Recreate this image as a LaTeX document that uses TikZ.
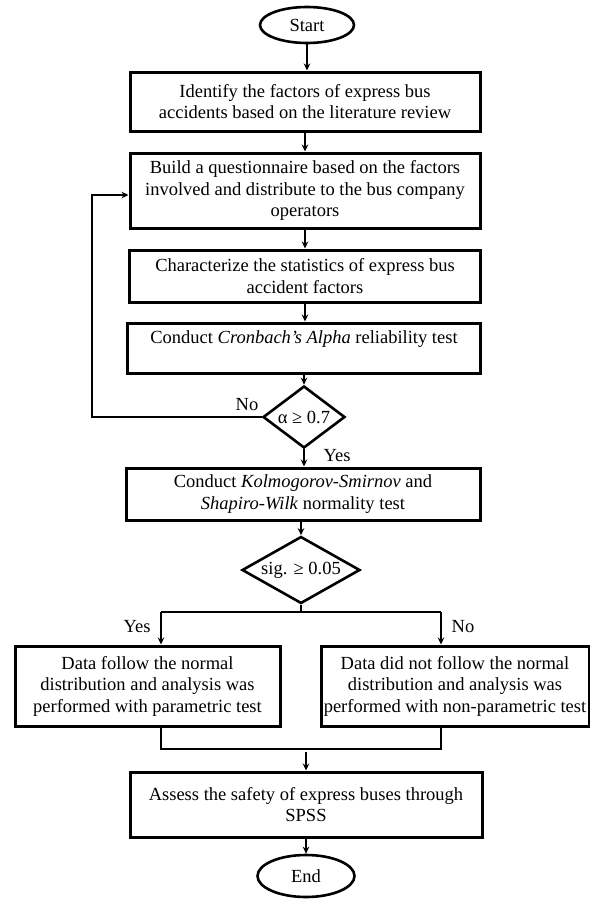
\documentclass[tikz,border=0pt]{standalone}
\usepackage{fontspec}
\setmainfont{Liberation Serif}
\usetikzlibrary{shapes.geometric,arrows.meta}
\begin{document}
\begin{tikzpicture}[x=1pt,y=-1pt,
  txt/.style={font=\fontsize{18.5}{21.5}\selectfont, align=center, inner sep=0pt},
  procbox/.style={txt, draw, line width=3pt},
  term/.style={txt, draw, ellipse, line width=2.6pt},
  decis/.style={draw, diamond, line width=2.6pt, inner sep=0pt},
  conn/.style={line width=1.8pt},
  arr/.style={conn, -{Stealth[length=7pt,width=6.5pt]}}
]
\useasboundingbox (0,0) rectangle (589,899);

\node[term, minimum width=94pt, minimum height=36pt] (start) at (307,25) {Start};
\node[procbox, minimum width=350pt, minimum height=59pt] (b1) at (305,101.5)
  {Identify the factors of express bus\\accidents based on the literature review};
\node[procbox, minimum width=350pt, minimum height=75pt] (b2) at (305,190.5)
  {Build a questionnaire based on the factors\\involved and distribute to the bus company\\operators};
\node[procbox, minimum width=351pt, minimum height=52pt] (b3) at (305,276)
  {Characterize the statistics of express bus\\accident factors};
\node[procbox, minimum width=353pt, minimum height=50pt] (b4) at (304,348)
  {Conduct \textit{Cronbach's Alpha} reliability test\\[0pt]~};
\node[decis, minimum width=82pt, minimum height=62pt] (d1) at (304,417) {};
\node[txt] (d1t) at (d1.center) {α ≥ 0.7};
\node[procbox, minimum width=354pt, minimum height=52pt] (b5) at (303,494)
  {Conduct \textit{Kolmogorov-Smirnov} and\\\textit{Shapiro-Wilk} normality test};
\node[decis, minimum width=118pt, minimum height=67pt] (d2) at (301,570) {};
\node[txt] (d2t) at (d2.center) {sig. ≥ 0.05};
\node[procbox, minimum width=265pt, minimum height=80pt] (L) at (147.5,686)
  {Data follow the normal\\distribution and analysis was\\performed with parametric test};
\node[procbox, minimum width=268pt, minimum height=80pt] (R) at (455,686)
  {Data did not follow the normal\\distribution and analysis was\\performed with non-parametric test};
\node[procbox, minimum width=352pt, minimum height=65pt] (b6) at (306,804.5)
  {Assess the safety of express buses through\\SPSS};
\node[term, minimum width=97pt, minimum height=42pt] (end) at (306,876) {End};

% labels
\node[txt] (lno1) at (247,405) {No};
\node[txt] (lyes1) at (337,456) {Yes};
\node[txt] (lyes2) at (137,627) {Yes};
\node[txt] (lno2) at (463,627) {No};

% main trunk
\draw[arr] (start.south) -- (start.south |- b1.north);
\draw[arr] (b1.south) -- (b2.north);
\draw[arr] (b2.south) -- (b3.north);
\draw[arr] (b3.south) -- (b3.south |- b4.north);
\draw[arr] (b4.south -| d1.north) -- (d1.north);
\draw[arr] (d1.south) -- (d1.south |- b5.north);
\draw[arr] (b5.south -| d2.north) -- (d2.north);

% loop back
\coordinate (loopc) at (92,195);
\draw[arr] (d1.west) -| (loopc) -- (loopc -| b2.west);

% branch
\coordinate (bl) at (161,612);
\coordinate (brr) at (441,612);
\draw[conn] (d2.south) -- (d2.south |- bl);
\draw[conn] (bl) -- (brr);
\draw[arr] (bl) -- (bl |- L.north);
\draw[arr] (brr) -- (brr |- R.north);

% merge
\coordinate (ml) at (161,749);
\coordinate (mr) at (441,749);
\coordinate (mc) at (306,752);
\draw[conn] (L.south -| ml) -- (ml) -- (mr) -- (R.south -| mr);
\draw[arr] (mc) -- (mc |- b6.north);
\draw[arr] (b6.south -| end.north) -- (end.north);
\end{tikzpicture}
\end{document}
